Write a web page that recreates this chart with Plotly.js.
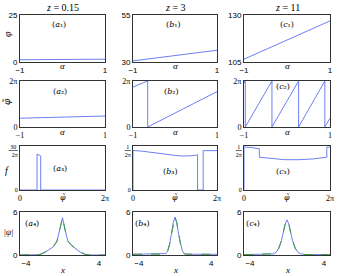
<!DOCTYPE html>
<html><head><meta charset="utf-8">
<script src="https://cdn.plot.ly/plotly-3.0.1.min.js"></script>
<style>html,body{margin:0;padding:0;background:#fff}#chart{width:337px;height:276px}</style>
</head><body><div id="chart"></div>
<script>
// ---------- data ----------
const columnTitles = ['<i>z</i> = 0.15', '<i>z</i> = 3', '<i>z</i> = 11'];
const panelLetters = ['a', 'b', 'c'];
const rowSubscripts = ['₁', '₂', '₃', '₄'];

// row 1: phi vs alpha
const alphaEnds = [-1, 1];
const phiA = [1.2, 1.5];
const phiB = [30.6, 36.25];
const phiC = [106.5, 126.85];

// row 2: wrapped phi vs alpha
const alphaWrapA = [-1, 1];
const phiTildeA = [1.2, 1.5];
const alphaWrapB = [-1, -0.65, -0.65, 1];
const phiTildeB = [5.46, 6.283, 0, 4.83];
const alphaWrapC = [-1, -0.97, -0.97, -0.35, -0.35, 0.27, 0.27, 0.88, 0.88, 1];
const phiTildeC = [5.97, 6.283, 0, 6.283, 0, 6.283, 0, 6.283, 0, 1.19];

// row 3: distribution f of wrapped phase
const fPhiA = [0, 1.26, 1.26, 1.53, 1.53, 6.283];
const fA = [0, 0, 4.4, 4.16, 0, 0];
const fPhiB = [0, 0, 0.8, 1.6, 2.4, 3.2, 3.8, 4.4, 4.83, 4.83, 5.25, 5.25, 6.283];
const fB = [0, 0.162, 0.158, 0.152, 0.146, 0.141, 0.139, 0.140, 0.144, 0, 0, 0.161, 0.161];
const fPhiC = [0, 0, 0.5, 1.0, 1.12, 1.12, 2.0, 3.0, 4.0, 5.0, 6.05, 6.05, 6.283];
const fC = [0, 0.176, 0.174, 0.171, 0.169, 0.134, 0.128, 0.124, 0.124, 0.127, 0.134, 0.175, 0.176];

// row 4: |psi| vs x
const xA = [-4.65, -3, -2.5, -2, -1.5, -1, -0.6, -0.3, 0, 0.3, 0.6, 1, 1.5, 2, 2.5, 3, 4.65];
const psiA = [0, 0, 0.05, 0.3, 0.7, 1.15, 1.9, 3.5, 5.2, 3.4, 1.9, 1.3, 0.8, 0.35, 0.05, 0, 0];
const psiA2 = [0, 0, 0.08, 0.35, 0.75, 1.2, 1.95, 3.5, 5.2, 3.4, 1.95, 1.35, 0.85, 0.4, 0.08, 0, 0];
const xB = [-4.65, -2, -1.2, -1, -0.8, -0.6, -0.4, -0.2, 0, 0.2, 0.4, 0.6, 0.8, 1, 1.2, 2, 4.65];
const psiB = [0.1, 0.1, 0.12, 0.2, 0.6, 1.5, 2.9, 4.5, 5.3, 4.5, 2.9, 1.5, 0.6, 0.2, 0.12, 0.1, 0.1];
const psiB2 = [0.1, 0.1, 0.12, 0.22, 0.62, 1.52, 2.9, 4.5, 5.3, 4.5, 2.9, 1.52, 0.62, 0.22, 0.12, 0.1, 0.1];
const xC = [-4.65, -2, -1.5, -1.2, -0.9, -0.6, -0.4, -0.2, 0, 0.2, 0.4, 0.6, 0.9, 1.2, 1.5, 2, 4.65];
const psiC = [0.05, 0.07, 0.15, 0.35, 0.9, 2.0, 3.1, 4.3, 4.9, 4.3, 3.1, 2.0, 0.9, 0.35, 0.15, 0.07, 0.05];
const psiC2 = [0.05, 0.07, 0.16, 0.37, 0.92, 2.0, 3.1, 4.3, 4.9, 4.3, 3.1, 2.0, 0.92, 0.37, 0.16, 0.07, 0.05];

// ---------- layout helpers ----------
const W = 337, H = 276;
const px = v => v / W, py = v => 1 - v / H;
const colX = [[20, 105], [133, 217], [244, 330]];
const rowY = [[15, 62], [81, 127], [146, 190], [212, 255]];
const BLUE = '#6b7ff4', GREEN = '#3d9a3d';
const SERIF = 'Liberation Serif', SANS = 'Liberation Sans', DSERIF = 'DejaVu Serif';

const traces = [];
function add(r, c, x, y, color, dash) {
  const i = r * 3 + c + 1;
  traces.push({x, y, type: 'scatter', mode: 'lines',
    line: {color, width: 1, dash: dash || 'solid'},
    xaxis: 'x' + (i === 1 ? '' : i), yaxis: 'y' + (i === 1 ? '' : i),
    hoverinfo: 'skip', showlegend: false});
}
add(0, 0, alphaEnds, phiA, BLUE);
add(0, 1, alphaEnds, phiB, BLUE);
add(0, 2, alphaEnds, phiC, BLUE);
add(1, 0, alphaWrapA, phiTildeA, BLUE);
add(1, 1, alphaWrapB, phiTildeB, BLUE);
add(1, 2, alphaWrapC, phiTildeC, BLUE);
add(2, 0, fPhiA, fA, BLUE);
add(2, 1, fPhiB, fB, BLUE);
add(2, 2, fPhiC, fC, BLUE);
add(3, 0, xA, psiA, BLUE);
add(3, 0, xA, psiA2, GREEN, 'dash');
add(3, 1, xB, psiB, BLUE);
add(3, 1, xB, psiB2, GREEN, 'dash');
add(3, 2, xC, psiC, BLUE);
add(3, 2, xC, psiC2, GREEN, 'dash');

const twoPi = 2 * Math.PI;
const frac = (n) => '<u>\u00a0' + n + '\u00a0</u><br>2π';
const yCfg = [
  [{range: [0, 25], tickvals: [0, 25], ticktext: ['0', '25'], font: SANS},
   {range: [30, 55], tickvals: [30, 55], ticktext: ['30', '55'], font: SANS},
   {range: [105, 130], tickvals: [105, 130], ticktext: ['105', '130'], font: SANS}],
  [{range: [0, twoPi], tickvals: [0, twoPi], ticktext: ['0', '2π'], font: SERIF},
   {range: [0, twoPi], tickvals: [0, twoPi], ticktext: ['0', '2π'], font: SERIF},
   {range: [0, twoPi], tickvals: [0, twoPi], ticktext: ['0', '2π'], font: SERIF}],
  [{range: [0, 5.38], tickvals: [0, 30 / twoPi], ticktext: ['0', frac('30')], font: SERIF},
   {range: [0, 0.18], tickvals: [0, 1 / twoPi], ticktext: ['0', frac('1')], font: SERIF},
   {range: [0, 0.18], tickvals: [0, 1 / twoPi], ticktext: ['0', frac('1')], font: SERIF}],
  [{range: [0, 6], tickvals: [0, 6], ticktext: ['0', '6'], font: SANS},
   {range: [0, 6], tickvals: [0, 6], ticktext: ['0', '6'], font: SANS},
   {range: [0, 6], tickvals: [0, 6], ticktext: ['0', '6'], font: SANS}]
];
const xCfg = [
  {range: [-1, 1], tickvals: [-1, 1], ticktext: ['−1', '1'], font: SANS},
  {range: [-1, 1], tickvals: [-1, 1], ticktext: ['−1', '1'], font: SERIF},
  {range: [0, twoPi], tickvals: [0, twoPi], ticktext: ['0', '2π'], font: SERIF},
  {range: [-4.65, 4.65], tickvals: [-4, 4], ticktext: ['−4', '4'], font: SANS}
];

const layout = {width: W, height: H, margin: {l: 0, r: 0, t: 0, b: 0},
  paper_bgcolor: '#fff', plot_bgcolor: '#fff', showlegend: false,
  annotations: [], shapes: []};

for (let r = 0; r < 4; r++) {
  for (let c = 0; c < 3; c++) {
    const i = r * 3 + c + 1;
    const sfx = i === 1 ? '' : i;
    const common = {showline: true, mirror: true, linecolor: '#333', linewidth: 1,
      showgrid: false, zeroline: false, ticks: '', fixedrange: true};
    const yc = yCfg[r][c], xc = xCfg[r];
    layout['xaxis' + sfx] = Object.assign({}, common, {
      domain: [px(colX[c][0]), px(colX[c][1])], anchor: 'y' + sfx,
      range: xc.range, tickvals: xc.tickvals, ticktext: xc.ticktext,
      tickfont: {family: xc.font, size: 8, color: '#000'}});
    layout['yaxis' + sfx] = Object.assign({}, common, {
      domain: [py(rowY[r][1]), py(rowY[r][0])], anchor: 'x' + sfx,
      range: yc.range, tickvals: yc.tickvals, ticktext: yc.ticktext,
      tickfont: {family: yc.font, size: r === 2 ? 6 : 8, color: '#000'}});
  }
}

function ann(x, y, text, size, opts) {
  layout.annotations.push(Object.assign({xref: 'paper', yref: 'paper', x: px(x), y: py(y),
    text, showarrow: false, xanchor: 'center', yanchor: 'middle',
    font: {family: SERIF, size: size, color: '#000'}}, opts || {}));
}
// column titles
const titleX = [62, 175, 287];
columnTitles.forEach((t, c) => ann(titleX[c], 7, t, 10));
// panel labels
const labelPos = [
  [[59, 25], [173, 25], [287, 25]],
  [[60, 91], [171, 91], [283, 86]],
  [[60, 168], [170, 171], [283, 171]],
  [[32, 223], [142, 223], [253, 223]]
];
for (let r = 0; r < 4; r++) for (let c = 0; c < 3; c++) {
  ann(labelPos[r][c][0], labelPos[r][c][1], '(<i>' + panelLetters[c] + '</i>' + rowSubscripts[r] + ')', 9,
      {font: {family: DSERIF, size: 8, color: '#000'}});
}
// y axis titles
ann(7, 34, '<i>φ</i>', 10, {textangle: -90});
ann(7, 102, '<i>φ̃</i>', 9, {textangle: -90, font: {family: DSERIF, size: 9, color: '#000'}});
ann(7, 170, '<i>f</i>', 10);
ann(8, 232, '|<i>ψ</i>|', 9);
// x axis titles
const xTitleRow = [['<i>α</i>', 66, SERIF], ['<i>α</i>', 132, SERIF], ['<i>φ̃</i>', 197, DSERIF], ['<i>x</i>', 270, SERIF]];
for (let r = 0; r < 4; r++) for (let c = 0; c < 3; c++) {
  ann((colX[c][0] + colX[c][1]) / 2, xTitleRow[r][1], xTitleRow[r][0], 9,
      {font: {family: xTitleRow[r][2], size: r === 2 ? 8 : 9, color: '#000'}});
}

Plotly.newPlot('chart', traces, layout, {displayModeBar: false});
</script></body></html>
